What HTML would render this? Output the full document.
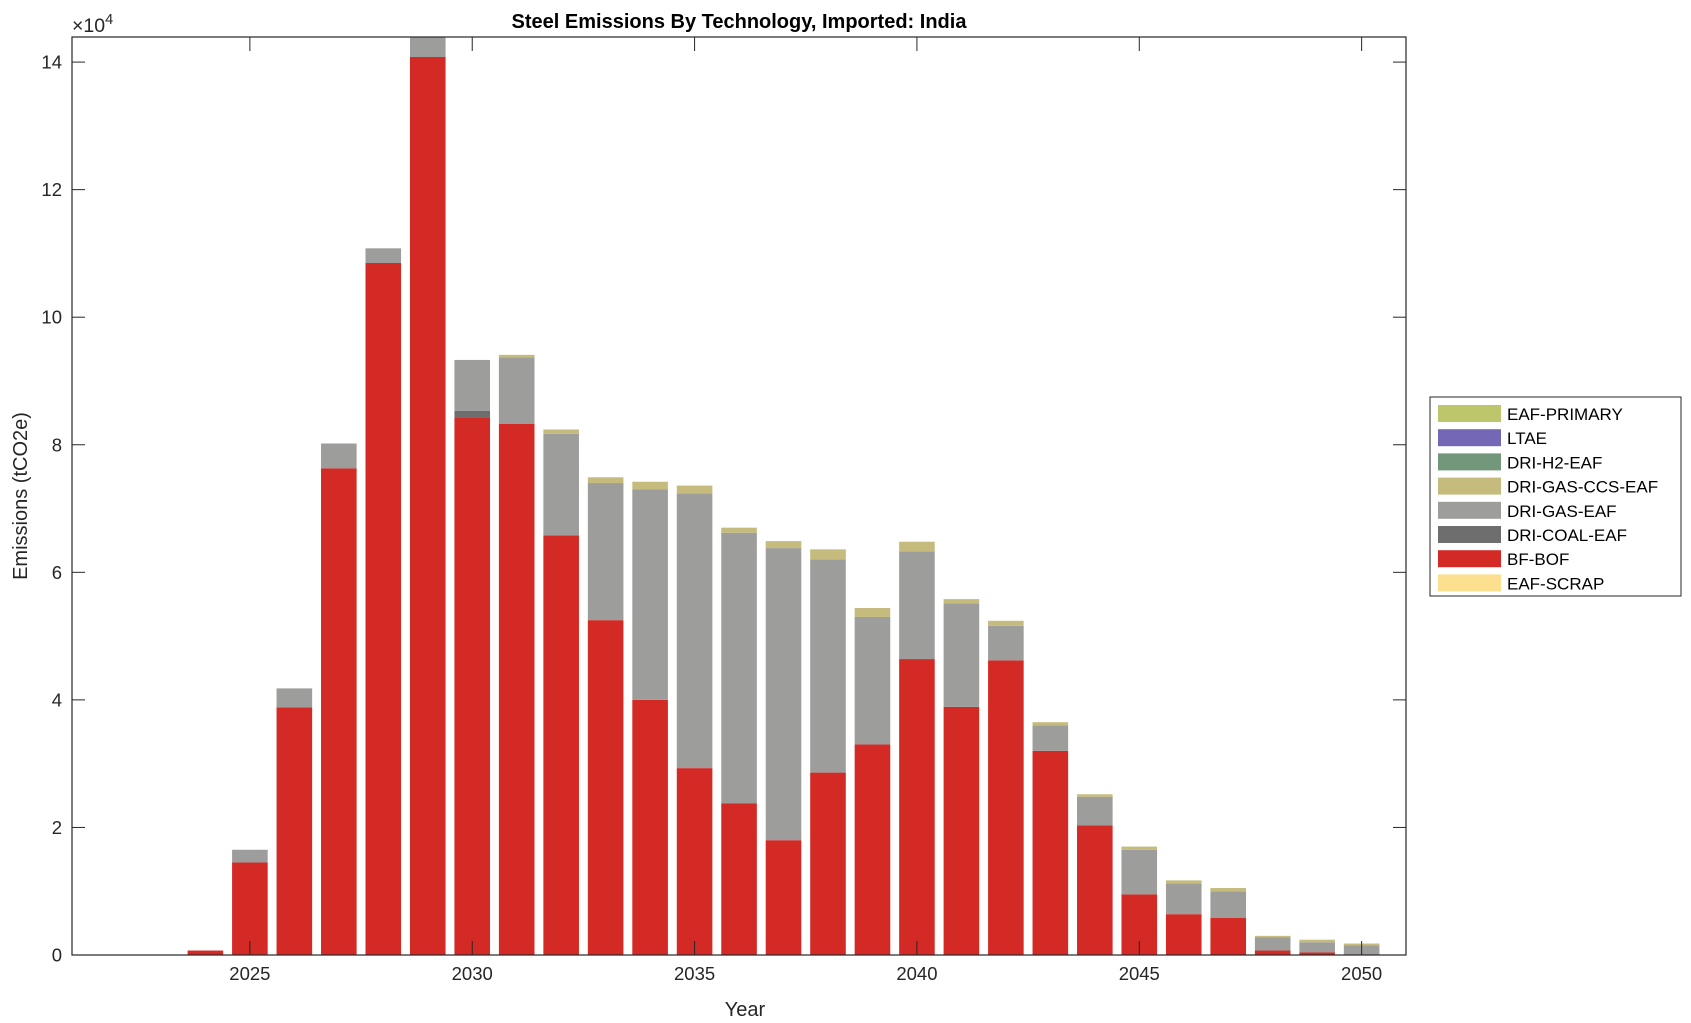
<!DOCTYPE html>
<html><head><meta charset="utf-8"><style>
html,body{margin:0;padding:0;background:#fff;}
svg{display:block;font-family:"Liberation Sans",Arial,sans-serif;}
</style></head><body>
<svg id="s" width="1691" height="1023" xmlns="http://www.w3.org/2000/svg"></svg>
<script>
const s=document.getElementById('s');
const L=72,R=1406,T=37,B=955,Y0=955,SC=63.78;
const x=y=>L+(y-2021)*44.47;
const yv=v=>Y0-v*SC;
let h='';
const data=[
[2024,0.07,0.07,0.07,0.07],
[2025,1.45,1.45,1.65,1.65],
[2026,3.88,3.88,4.18,4.18],
[2027,7.63,7.63,8.02,8.02],
[2028,10.85,10.85,11.08,11.08],
[2029,14.08,14.08,14.6,14.6],
[2030,8.42,8.53,9.33,9.33],
[2031,8.33,8.33,9.37,9.41],
[2032,6.58,6.58,8.17,8.24],
[2033,5.25,5.25,7.40,7.49],
[2034,4.00,4.00,7.30,7.42],
[2035,2.93,2.93,7.24,7.36],
[2036,2.38,2.38,6.62,6.70],
[2037,1.80,1.80,6.38,6.49],
[2038,2.86,2.86,6.20,6.36],
[2039,3.30,3.30,5.30,5.44],
[2040,4.64,4.64,6.33,6.48],
[2041,3.89,3.89,5.51,5.58],
[2042,4.62,4.62,5.16,5.24],
[2043,3.20,3.20,3.60,3.65],
[2044,2.03,2.03,2.48,2.52],
[2045,0.95,0.95,1.65,1.70],
[2046,0.64,0.64,1.12,1.17],
[2047,0.58,0.58,1.00,1.05],
[2048,0.07,0.07,0.28,0.30],
[2049,0.04,0.04,0.20,0.24],
[2050,0,0,0.15,0.18]];
const cols=['#d42a25','#6e6e6e','#9d9d9b','#c5bb7d'];
h+='<clipPath id="c"><rect x="'+L+'" y="'+T+'" width="'+(R-L)+'" height="'+(B-T)+'"/></clipPath><g clip-path="url(#c)">';
for(const d of data){
  const bx=x(d[0])-17.8;let prev=0;
  for(let i=0;i<4;i++){const v=d[i+1];if(v>prev){h+=`<rect x="${bx}" y="${yv(v)}" width="35.6" height="${yv(prev)-yv(v)}" fill="${cols[i]}"/>`;}prev=Math.max(prev,v);}
}
h+='</g>';
h+=`<rect x="${L}" y="${T}" width="${R-L}" height="${B-T}" fill="none" stroke="#262626" stroke-width="1.2"/>`;
for(let v=0;v<=14;v+=2){const yy=yv(v);h+=`<line x1="${L}" x2="${L+13}" y1="${yy}" y2="${yy}" stroke="#262626"/><line x1="${R}" x2="${R-13}" y1="${yy}" y2="${yy}" stroke="#262626"/><text x="${L-10}" y="${yy+6.5}" font-size="18.5" text-anchor="end" fill="#262626">${v}</text>`;}
for(let yr=2025;yr<=2050;yr+=5){const xx=x(yr);h+=`<line x1="${xx}" x2="${xx}" y1="${B}" y2="${B-14}" stroke="#262626"/><line x1="${xx}" x2="${xx}" y1="${T}" y2="${T+14}" stroke="#262626"/><text x="${xx}" y="${B+25}" font-size="18.5" text-anchor="middle" fill="#262626">${yr}</text>`;}
h+=`<text x="72" y="32" font-size="19.5" fill="#262626">×10<tspan dy="-8" font-size="14.5">4</tspan></text>`;
h+=`<text x="739" y="28" font-size="20" font-weight="bold" text-anchor="middle" fill="#000">Steel Emissions By Technology, Imported: India</text>`;
h+=`<text x="745" y="1016" font-size="20" text-anchor="middle" fill="#262626">Year</text>`;
h+=`<text transform="translate(27,496) rotate(-90)" font-size="20" text-anchor="middle" fill="#262626">Emissions (tCO2e)</text>`;
h+=`<rect x="1430" y="397" width="251" height="199" fill="#fff" stroke="#262626" stroke-width="1"/>`;
const lg=[['EAF-PRIMARY','#bec66c'],['LTAE','#7468b6'],['DRI-H2-EAF','#72977a'],['DRI-GAS-CCS-EAF','#c5bb7d'],['DRI-GAS-EAF','#9d9d9b'],['DRI-COAL-EAF','#6e6e6e'],['BF-BOF','#d42a25'],['EAF-SCRAP','#fde08f']];
lg.forEach((e,i)=>{const yy=405+i*24.2;h+=`<rect x="1438" y="${yy}" width="63" height="17" fill="${e[1]}"/><text x="1507" y="${yy+15}" font-size="17" fill="#000">${e[0]}</text>`;});
s.innerHTML=h;
</script>
</body></html>
